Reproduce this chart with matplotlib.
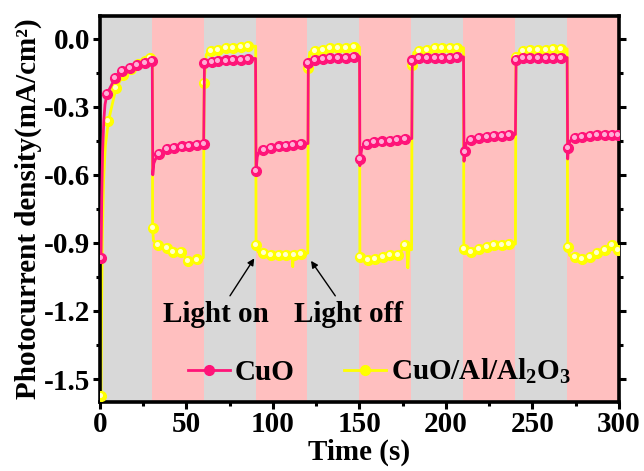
import numpy as np
import matplotlib
matplotlib.use('Agg')
import matplotlib.pyplot as plt
from matplotlib import transforms

# Time (s) / photocurrent density (mA/cm^2); *_mark flags the points that carry a symbol
cuo_t = [0.7, 1.1, 1.6, 2.3, 3.0, 4.2, 8.7, 12.9, 17.4, 21.6, 26.1, 30.3,
         30.6, 31.2, 32.2, 34.4, 38.6, 42.8, 47.3, 51.7, 56.0, 60.0,
         60.5, 64.7, 68.5, 73.0, 77.2, 81.5, 85.9, 90.0,
         90.3, 91.0, 92.0, 94.6, 98.8, 103.3, 107.7, 111.9, 116.2, 120.3,
         120.5, 124.5, 128.9, 133.2, 137.6, 142.3, 146.7, 150.1,
         150.3, 150.5, 151.5, 154.4, 158.6, 163.1, 167.5, 171.7, 176.1, 180.3,
         180.6, 184.3, 189.1, 193.5, 197.8, 202.2, 206.4, 210.2,
         210.5, 210.8, 211.8, 214.7, 219.1, 223.6, 227.8, 232.2, 236.5, 240.2,
         240.6, 244.7, 248.9, 253.1, 257.6, 262.0, 266.3, 270.1,
         270.4, 270.8, 271.8, 274.5, 278.8, 283.2, 287.4, 291.8, 296.1, 299.6]
cuo_j = [-0.968, -0.70, -0.50, -0.36, -0.29, -0.242, -0.175, -0.143, -0.128, -0.114, -0.106, -0.100,
         -0.600, -0.550, -0.530, -0.509, -0.487, -0.480, -0.475, -0.472, -0.468, -0.465,
         -0.106, -0.102, -0.099, -0.096, -0.095, -0.092, -0.089, -0.087,
         -0.582, -0.520, -0.500, -0.490, -0.480, -0.475, -0.472, -0.468, -0.465, -0.462,
         -0.106, -0.094, -0.089, -0.087, -0.084, -0.083, -0.080, -0.079,
         -0.560, -0.531, -0.480, -0.465, -0.457, -0.453, -0.450, -0.447, -0.443, -0.440,
         -0.096, -0.087, -0.084, -0.084, -0.084, -0.083, -0.081, -0.080,
         -0.540, -0.497, -0.460, -0.447, -0.438, -0.432, -0.429, -0.428, -0.425, -0.422,
         -0.092, -0.087, -0.087, -0.087, -0.087, -0.086, -0.084, -0.083,
         -0.530, -0.480, -0.450, -0.438, -0.432, -0.428, -0.425, -0.425, -0.423, -0.425]
cuo_mark = [1, 0, 0, 0, 0, 1, 1, 1, 1, 1, 1, 1,
            0, 0, 0, 1, 1, 1, 1, 1, 1, 1,
            1, 1, 1, 1, 1, 1, 1, 0,
            1, 0, 0, 1, 1, 1, 1, 1, 1, 0,
            1, 1, 1, 1, 1, 1, 1, 0,
            0, 1, 0, 1, 1, 1, 1, 1, 1, 0,
            1, 1, 1, 1, 1, 1, 1, 0,
            0, 1, 0, 1, 1, 1, 1, 1, 1, 0,
            1, 1, 1, 1, 1, 1, 1, 0,
            0, 1, 0, 1, 1, 1, 1, 1, 1, 1]

al_t = [0.7, 1.0, 1.5, 2.2, 3.2, 5.0, 9.3, 13.5, 17.8, 21.8, 26.1, 29.2, 30.4,
        30.5, 31.0, 33.8, 38.6, 42.5, 46.9, 51.1, 56.0, 59.8,
        60.3, 61.5, 64.1, 68.5, 73.0, 77.2, 81.5, 85.9, 90.1,
        90.3, 91.5, 94.6, 98.8, 103.3, 107.7, 111.2, 111.5, 111.8, 112.2, 116.2, 120.2,
        120.5, 121.3, 124.5, 128.9, 133.2, 137.6, 142.3, 146.7, 150.1,
        150.3, 155.0, 159.2, 163.7, 167.9, 172.2, 176.6, 177.5, 178.0, 178.6, 180.2,
        180.5, 181.5, 184.3, 189.1, 193.5, 197.8, 202.2, 206.4, 210.2,
        210.4, 214.7, 219.1, 223.6, 227.8, 232.2, 236.5, 240.2,
        240.5, 244.7, 248.9, 253.1, 257.6, 262.0, 266.3, 270.1,
        270.4, 271.5, 274.5, 278.8, 283.2, 287.4, 291.8, 296.1, 299.6]
al_j = [-1.573, -1.20, -0.85, -0.62, -0.47, -0.362, -0.219, -0.160, -0.135, -0.113, -0.099, -0.085, -0.080,
        -0.834, -0.890, -0.911, -0.922, -0.938, -0.938, -0.980, -0.973, -0.965,
        -0.194, -0.070, -0.055, -0.048, -0.043, -0.040, -0.037, -0.033, -0.033,
        -0.911, -0.940, -0.945, -0.952, -0.952, -0.952, -0.952, -1.005, -0.955, -0.952, -0.949, -0.945,
        -0.128, -0.060, -0.055, -0.048, -0.043, -0.040, -0.040, -0.037, -0.037,
        -0.962, -0.974, -0.970, -0.960, -0.952, -0.955, -0.911, -0.930, -1.010, -0.930, -0.930,
        -0.115, -0.060, -0.055, -0.048, -0.043, -0.043, -0.040, -0.040, -0.040,
        -0.926, -0.940, -0.926, -0.918, -0.911, -0.908, -0.904, -0.905,
        -0.080, -0.055, -0.050, -0.048, -0.048, -0.045, -0.045, -0.045,
        -0.916, -0.955, -0.962, -0.970, -0.960, -0.945, -0.933, -0.911, -0.933]
al_mark = [1, 0, 0, 0, 0, 1, 1, 1, 1, 1, 1, 1, 0,
           1, 0, 1, 1, 1, 1, 1, 1, 0,
           1, 0, 1, 1, 1, 1, 1, 1, 0,
           1, 0, 1, 1, 1, 1, 0, 0, 0, 1, 1, 0,
           1, 0, 1, 1, 1, 1, 1, 1, 0,
           1, 1, 1, 1, 1, 1, 1, 0, 0, 0, 0,
           1, 0, 1, 1, 1, 1, 1, 1, 0,
           1, 1, 1, 1, 1, 1, 1, 0,
           1, 1, 1, 1, 1, 1, 1, 0,
           1, 0, 1, 1, 1, 1, 1, 1, 1]

# illumination windows (light on)
light_on = [(30, 60), (90, 120), (150, 180), (210, 240), (270, 300)]

x_ticks = [0, 50, 100, 150, 200, 250, 300]
y_ticks = [0.0, -0.3, -0.6, -0.9, -1.2, -1.5]

plt.rcParams['font.family'] = ['Liberation Serif', 'DejaVu Serif']
plt.rcParams['font.weight'] = 'bold'
plt.rcParams['axes.labelweight'] = 'bold'
plt.rcParams['font.size'] = 21
plt.rcParams['axes.unicode_minus'] = False
plt.rcParams['mathtext.fontset'] = 'custom'
plt.rcParams['mathtext.rm'] = 'Liberation Serif:bold'
plt.rcParams['mathtext.it'] = 'Liberation Serif:bold'
plt.rcParams['mathtext.bf'] = 'Liberation Serif:bold'

PINK = '#FF1478'
YEL = '#FFFF00'

fig = plt.figure(figsize=(6.44, 4.71), dpi=100)
ax = fig.add_axes([0.155, 0.147, 0.806, 0.819])
ax.set_facecolor('#D8D8D8')
for a, b in light_on:
    ax.axvspan(a, b, color='#FFBFBF', lw=0, zorder=0)

hl = transforms.offset_copy(ax.transData, fig=fig, x=-0.7, y=0.7, units='points')


def draw_series(t, j, mark, color, face, shine, z):
    t = np.asarray(t)
    j = np.asarray(j)
    m = np.asarray(mark, dtype=bool)
    ax.plot(t, j, '-', color=color, lw=2.0, zorder=z)
    dots, = ax.plot(t[m], j[m], 'o', ms=7, mfc=face, mec=face, zorder=z + 1)
    ax.plot(t[m], j[m], 'o', ms=2.6, mfc=shine, mec=shine, zorder=z + 2, transform=hl)
    return dots


al_dots = draw_series(al_t, al_j, al_mark, YEL, YEL, '#FFFFD0', 2)
cuo_dots = draw_series(cuo_t, cuo_j, cuo_mark, PINK, PINK, '#FFB0D8', 5)

ax.set_xlim(0, 300)
ax.set_ylim(-1.6, 0.1)
ax.set_xticks(x_ticks)
ax.set_xticks([25, 75, 125, 175, 225, 275], minor=True)
ax.set_yticks(y_ticks)
ax.set_yticks([-0.15, -0.45, -0.75, -1.05, -1.35], minor=True)
ax.set_yticklabels(['%.1f' % v for v in y_ticks])
ax.tick_params(which='both', direction='out', width=2.2, right=True, top=False)
ax.tick_params(which='major', length=5, pad=2)
ax.tick_params(which='minor', length=3)
for sp in ax.spines.values():
    sp.set_linewidth(2.6)

ax.set_xlabel('Time (s)', labelpad=0)
ax.set_ylabel('Photocurrent density(mA/cm²)', labelpad=1)

arrow = dict(arrowstyle='-|>', color='black', lw=1.0, mutation_scale=10, shrinkA=2, shrinkB=1)
ax.annotate('Light on', xy=(89.7, -0.963), xytext=(67.2, -1.215), ha='center', va='center',
            arrowprops=dict(arrow, relpos=(0.6, 1.0)))
ax.annotate('Light off', xy=(121.6, -0.974), xytext=(143.8, -1.215), ha='center', va='center',
            arrowprops=dict(arrow, relpos=(0.41, 1.0)))

leg = ax.legend([cuo_dots, al_dots], ['CuO', 'CuO/Al/Al$_2$O$_3$'],
                loc='lower left', bbox_to_anchor=(0.17, 0.04), ncol=2, frameon=False,
                handlelength=1.45, handletextpad=0.15, columnspacing=1.7,
                borderpad=0, borderaxespad=0)
for h, c in zip(leg.legend_handles, (PINK, YEL)):
    h.set_linestyle('-')
    h.set_color(c)
    h.set_linewidth(2.0)

fig.savefig('out.png', dpi=100)
